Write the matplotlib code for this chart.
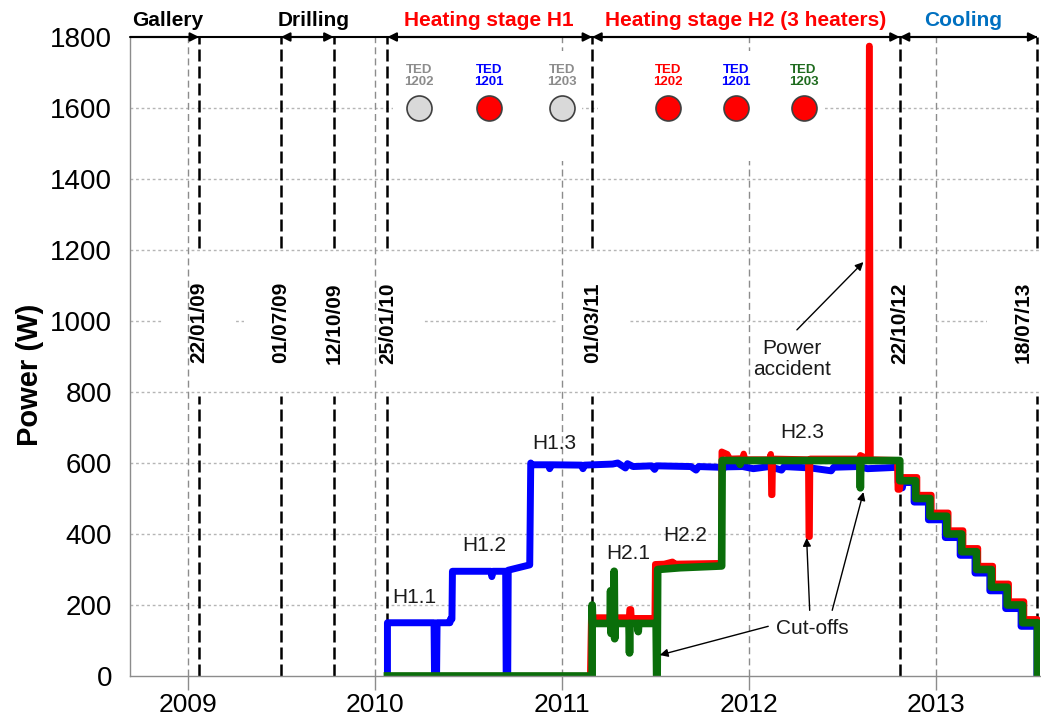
import matplotlib
matplotlib.use("Agg")
import matplotlib.pyplot as plt
import matplotlib.dates as mdates
from matplotlib.patches import Rectangle
import pandas as pd

plt.rcParams['font.family'] = ['Liberation Sans', 'DejaVu Sans']

# ---------------- data ----------------
year_ticks = [2009, 2010, 2011, 2012, 2013]
y_ticks = [0, 200, 400, 600, 800, 1000, 1200, 1400, 1600, 1800]

event_dates = ['2009-01-22', '2009-07-01', '2009-10-12', '2010-01-25',
               '2011-03-01', '2012-10-22', '2013-07-18']
event_labels = ['22/01/09', '01/07/09', '12/10/09', '25/01/10',
                '01/03/11', '22/10/12', '18/07/13']
# the last label sits just inside the plot, left of its line
event_label_x = ['2009-01-22', '2009-07-01', '2009-10-12', '2010-01-25',
                 '2011-03-01', '2012-10-22', '2013-06-20']

stage_names = ['Gallery', 'Drilling', 'Heating stage H1',
               'Heating stage H2 (3 heaters)', 'Cooling']
stage_colors = ['black', 'black', '#ff0000', '#ff0000', '#0070c0']
stage_text_x = ['2008-11-22', '2009-09-03', '2010-08-12', '2011-12-26', '2013-02-23']

# heater status markers
h1_heaters = ['TED\n1202', 'TED\n1201', 'TED\n1203']
h1_heater_x = ['2010-03-27', '2010-08-12', '2011-01-01']
h1_text_colors = ['#8c8c8c', '#0000ff', '#8c8c8c']
h1_fill = ['#d9d9d9', '#ff0000', '#d9d9d9']
h2_heaters = ['TED\n1202', 'TED\n1201', 'TED\n1203']
h2_heater_x = ['2011-07-27', '2011-12-07', '2012-04-17']
h2_text_colors = ['#ff0000', '#0000ff', '#1e6b1e']
h2_fill = ['#ff0000', '#ff0000', '#ff0000']

# TED 1201 (blue)
blue_dates = ['2010-01-25', '2010-01-25', '2010-04-26', '2010-04-27', '2010-05-01', '2010-05-02',
              '2010-05-27', '2010-05-28', '2010-05-31', '2010-06-01', '2010-08-15', '2010-08-17',
              '2010-08-19', '2010-09-13', '2010-09-14', '2010-09-17', '2010-09-18', '2010-10-30',
              '2010-11-01', '2010-11-03', '2010-12-06', '2010-12-08', '2010-12-11', '2011-02-08',
              '2011-02-11', '2011-02-14', '2011-04-10', '2011-04-20', '2011-05-05', '2011-05-09',
              '2011-05-20', '2011-06-25', '2011-07-01', '2011-07-05', '2011-09-10', '2011-09-20',
              '2011-09-25', '2011-11-05', '2011-11-10', '2011-11-15', '2011-12-20', '2012-01-10',
              '2012-02-10', '2012-03-05', '2012-03-10', '2012-05-01', '2012-06-10', '2012-06-15',
              '2012-08-01', '2012-08-20', '2012-10-19', '2012-10-19', '2012-10-27', '2012-10-29',
              '2012-11-19', '2012-11-19', '2012-12-17', '2012-12-17', '2013-01-19', '2013-01-19',
              '2013-02-17', '2013-02-17', '2013-03-18', '2013-03-18', '2013-04-16', '2013-04-16',
              '2013-05-17', '2013-05-17', '2013-06-16', '2013-06-16', '2013-07-17', '2013-07-17']
blue_power = [0, 150, 150, 0, 0, 150,
              150, 160, 160, 295, 295, 280,
              295, 295, 0, 0, 298, 313,
              600, 595, 595, 584, 595, 594,
              584, 594, 597, 600, 586, 598,
              590, 592, 582, 592, 590, 580,
              590, 588, 579, 589, 590, 584,
              590, 580, 590, 586, 578, 588,
              590, 584, 588, 545, 530, 545,
              545, 490, 490, 440, 440, 390,
              390, 340, 340, 290, 290, 240,
              240, 190, 190, 140, 140, 0]

# TED 1202 (red)
red_dates = ['2010-01-25', '2011-02-25', '2011-02-27', '2011-05-12', '2011-05-13', '2011-05-16',
             '2011-05-17', '2011-07-01', '2011-07-02', '2011-07-20', '2011-08-05', '2011-08-10',
             '2011-11-08', '2011-11-09', '2011-11-20', '2011-11-25', '2011-12-20', '2011-12-22',
             '2011-12-25', '2012-02-10', '2012-02-13', '2012-02-14', '2012-02-16', '2012-02-17',
             '2012-04-26', '2012-04-27', '2012-04-29', '2012-04-30', '2012-08-04', '2012-08-06',
             '2012-08-21', '2012-08-23', '2012-08-24', '2012-08-26', '2012-10-17', '2012-10-18',
             '2012-10-22', '2012-10-25', '2012-11-25', '2012-11-25', '2012-12-23', '2012-12-23',
             '2013-01-25', '2013-01-25', '2013-02-23', '2013-02-23', '2013-03-24', '2013-03-24',
             '2013-04-22', '2013-04-22', '2013-05-23', '2013-05-23', '2013-06-22', '2013-06-22',
             '2013-07-18', '2013-07-18']
red_power = [0, 0, 165, 165, 188, 188,
             163, 163, 315, 316, 322, 316,
             318, 632, 625, 612, 613, 626,
             610, 610, 625, 510, 510, 612,
             610, 392, 392, 612, 612, 622,
             612, 1775, 1775, 610, 608, 525,
             525, 560, 560, 510, 510, 460,
             460, 410, 410, 360, 360, 310,
             310, 260, 260, 210, 210, 160,
             160, 0]

# TED 1203 (green)
green_dates = ['2010-01-25', '2011-03-01', '2011-03-01', '2011-03-02', '2011-04-05', '2011-04-06',
               '2011-04-07', '2011-04-08', '2011-04-12', '2011-04-13', '2011-04-14', '2011-04-15',
               '2011-05-12', '2011-05-13', '2011-05-14', '2011-05-29', '2011-05-30', '2011-05-31',
               '2011-07-04', '2011-07-05', '2011-07-06', '2011-07-07', '2011-08-20', '2011-11-09',
               '2011-11-10', '2011-12-14', '2011-12-15', '2011-12-16', '2012-08-05', '2012-08-06',
               '2012-08-07', '2012-10-22', '2012-10-22', '2012-11-22', '2012-11-22', '2012-12-20',
               '2012-12-20', '2013-01-22', '2013-01-22', '2013-02-20', '2013-02-20', '2013-03-21',
               '2013-03-21', '2013-04-19', '2013-04-19', '2013-05-20', '2013-05-20', '2013-06-19',
               '2013-06-19', '2013-07-18', '2013-07-18']
green_power = [0, 0, 200, 148, 148, 240,
               120, 148, 148, 295, 105, 148,
               148, 65, 148, 148, 125, 148,
               148, 0, 0, 300, 305, 310,
               607, 607, 596, 607, 607, 530,
               607, 607, 550, 550, 500, 500,
               450, 450, 400, 400, 350, 350,
               300, 300, 250, 250, 200, 200,
               150, 150, 0]

phase_labels = ['H1.1', 'H1.2', 'H1.3', 'H2.1', 'H2.2', 'H2.3']
phase_x = ['2010-03-19', '2010-08-03', '2010-12-18', '2011-05-10', '2011-08-29', '2012-04-15']
phase_y = [222, 369, 656, 346, 397, 687]

# ---------------- figure ----------------
T = pd.Timestamp
fig = plt.figure(figsize=(10.41, 7.2), dpi=100)
ax = fig.add_axes([130 / 1041, 44 / 720, 910 / 1041, 639 / 720])

x_left, x_right = T('2008-09-09'), T('2013-07-23')
ax.set_xlim(x_left, x_right)
ax.set_ylim(0, 1800)

# grid
for yv in y_ticks[1:-1]:
    ax.axhline(yv, color='#b5b5b5', lw=1, linestyle=(0, (2, 2)), zorder=0.1)
for yr in year_ticks:
    ax.axvline(T(f'{yr}-01-01'), color='#8c8c8c', lw=1, linestyle=(0, (5, 3)), zorder=0.5)

# white panels behind the heater markers
for x0, x1 in [('2010-02-05', '2011-02-09'), ('2011-03-12', '2012-05-29')]:
    n0, n1 = mdates.date2num(T(x0)), mdates.date2num(T(x1))
    ax.add_patch(Rectangle((n0, 1450), n1 - n0, 310, facecolor='white',
                           edgecolor='none', zorder=1.0))

# event lines and labels
for d, lab, lx in zip(event_dates, event_labels, event_label_x):
    dt = T(d)
    ax.plot([dt, dt], [0, 790], color='black', lw=1.8, linestyle=(0, (4.8, 2)), zorder=1.5,
            clip_on=False)
    ax.plot([dt, dt], [1205, 1800], color='black', lw=1.8, linestyle=(0, (4.8, 2)), zorder=1.5,
            clip_on=False)
    ax.text(T(lx), 995, lab, rotation=90, ha='center', va='center', fontsize=15,
            fontweight='bold', zorder=0.3,
            bbox=dict(facecolor='white', edgecolor='none', boxstyle='square,pad=1.3'))

# stage arrows along the top
ax.plot([x_left, T(event_dates[-1])], [1800, 1800], color='black', lw=1.5,
        clip_on=False, zorder=4, solid_capstyle='butt')
arrow_kw = dict(color='black', lw=1.5, shrinkA=0, shrinkB=0, mutation_scale=13)
ax.annotate('', xy=(T(event_dates[0]), 1800), xytext=(x_left, 1800),
            arrowprops=dict(arrowstyle='-|>', **arrow_kw), annotation_clip=False, zorder=4)
for a, b in [(1, 2), (3, 4), (4, 5), (5, 6)]:
    ax.annotate('', xy=(T(event_dates[b]), 1800), xytext=(T(event_dates[a]), 1800),
                arrowprops=dict(arrowstyle='<|-|>', **arrow_kw), annotation_clip=False,
                zorder=4)
for name, col, xs in zip(stage_names, stage_colors, stage_text_x):
    ax.text(T(xs), 1830, name, color=col, fontsize=15, fontweight='bold',
            ha='center', va='baseline', clip_on=False)

# heater markers
for labels, xs, tcols, fills in [(h1_heaters, h1_heater_x, h1_text_colors, h1_fill),
                                 (h2_heaters, h2_heater_x, h2_text_colors, h2_fill)]:
    for lab, xs_, tc, fc in zip(labels, xs, tcols, fills):
        ax.plot([T(xs_)], [1600], marker='o', markersize=18, markerfacecolor=fc,
                markeredgecolor='#404040', markeredgewidth=1.2, zorder=3)
        ax.text(T(xs_), 1690, lab, ha='center', va='center', fontsize=9.5,
                fontweight='bold', color=tc, linespacing=1.05, zorder=3)

# power series
ax.plot(pd.to_datetime(blue_dates), blue_power, color='#0000ff', lw=5, zorder=2.0)
ax.plot(pd.to_datetime(red_dates), red_power, color='#ff0000', lw=4.5, zorder=2.2)
ax.plot(pd.to_datetime(green_dates), green_power, color='#0a6e0a', lw=5.5, zorder=2.4)

# phase labels
for lab, xs, yv in zip(phase_labels, phase_x, phase_y):
    ax.text(T(xs), yv, lab, ha='center', va='center', fontsize=15, color='#1a1a1a', zorder=3)

# annotations
thin = dict(arrowstyle='-|>', color='black', lw=1, mutation_scale=12, shrinkA=0, shrinkB=0)
ax.text(T('2012-03-25'), 893, 'Power\naccident', ha='center', va='center', fontsize=15,
        color='#1a1a1a', linespacing=1.1, zorder=3,
        bbox=dict(facecolor='white', edgecolor='none', pad=1))
ax.annotate('', xy=(T('2012-08-12'), 1166), xytext=(T('2012-04-04'), 975), arrowprops=thin,
            zorder=3)
ax.text(T('2012-05-05'), 135, 'Cut-offs', ha='center', va='center', fontsize=15,
        color='#1a1a1a', zorder=3)
ax.annotate('', xy=(T('2011-07-11'), 59), xytext=(T('2012-02-08'), 140), arrowprops=thin,
            zorder=3)
ax.annotate('', xy=(T('2012-04-23'), 389), xytext=(T('2012-04-29'), 185), arrowprops=thin,
            zorder=3)
ax.annotate('', xy=(T('2012-08-12'), 518), xytext=(T('2012-06-12'), 185), arrowprops=thin,
            zorder=3)

# axes styling
for s in ['top', 'right']:
    ax.spines[s].set_visible(False)
for s in ['left', 'bottom']:
    ax.spines[s].set_color('#8c8c8c')
    ax.spines[s].set_linewidth(1)
ax.set_xticks([T(f'{yr}-01-01') for yr in year_ticks])
ax.set_xticklabels([str(yr) for yr in year_ticks])
ax.set_yticks(y_ticks)
ax.set_yticklabels([str(v) for v in y_ticks])
ax.tick_params(axis='x', length=10, width=1, color='#8c8c8c', labelsize=19, pad=2)
ax.tick_params(axis='y', length=0, labelsize=20, pad=13)
ax.set_ylabel('Power (W)', fontsize=21, fontweight='bold')
ax.yaxis.set_label_coords(-0.095, 0.471)

fig.savefig('out.png', dpi=100)
